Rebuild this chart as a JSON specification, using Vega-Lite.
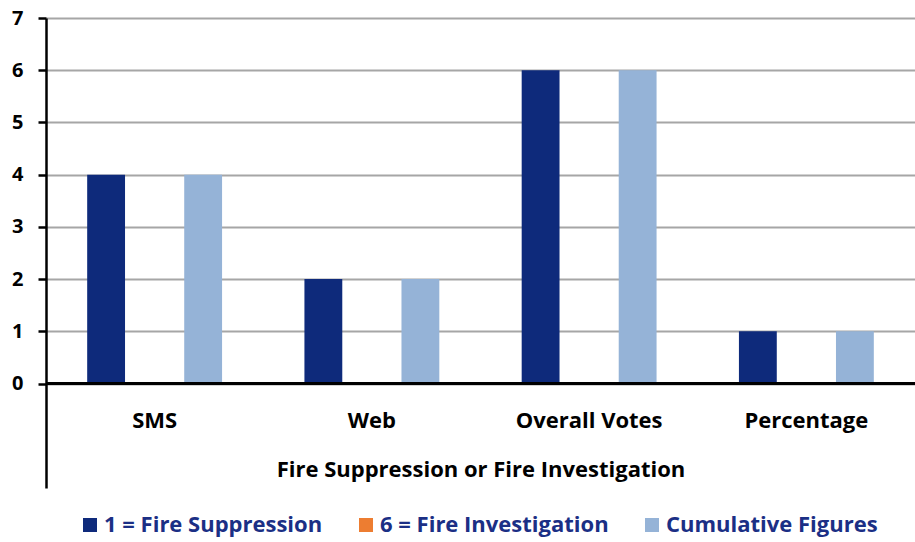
{
  "$schema": "https://vega.github.io/schema/vega-lite/v6.json",
  "autosize": "none",
  "width": 869,
  "height": 470,
  "padding": {"left": 46, "top": 18, "right": 0, "bottom": 54},
  "background": "white",
  "data": {
    "values": [
      {"category": "SMS", "series": "1 = Fire Suppression", "value": 4},
      {"category": "SMS", "series": "6 = Fire Investigation", "value": 0},
      {"category": "SMS", "series": "Cumulative Figures", "value": 4},
      {"category": "Web", "series": "1 = Fire Suppression", "value": 2},
      {"category": "Web", "series": "6 = Fire Investigation", "value": 0},
      {"category": "Web", "series": "Cumulative Figures", "value": 2},
      {"category": "Overall Votes", "series": "1 = Fire Suppression", "value": 6},
      {"category": "Overall Votes", "series": "6 = Fire Investigation", "value": 0},
      {"category": "Overall Votes", "series": "Cumulative Figures", "value": 6},
      {"category": "Percentage", "series": "1 = Fire Suppression", "value": 1},
      {"category": "Percentage", "series": "6 = Fire Investigation", "value": 0},
      {"category": "Percentage", "series": "Cumulative Figures", "value": 1}
    ]
  },
  "layer": [
    {
      "mark": {"type": "bar"},
      "encoding": {
        "x": {
          "field": "category",
          "type": "nominal",
          "sort": ["SMS", "Web", "Overall Votes", "Percentage"],
          "scale": {"paddingInner": 0.33, "paddingOuter": 0.165},
          "axis": {
            "domain": false,
            "ticks": false,
            "grid": false,
            "labelAngle": 0,
            "labelFont": "Open Sans",
            "labelFontWeight": "bold",
            "labelFontSize": 22,
            "labelColor": "black",
            "labelPadding": -78,
            "labelLimit": 400,
            "title": "Fire Suppression or Fire Investigation",
            "titleFont": "Open Sans",
            "titleFontSize": 22,
            "titleFontWeight": "bold",
            "titleColor": "black",
            "titleY": -19,
            "titleBaseline": "middle",
            "titleLimit": 800
          }
        },
        "xOffset": {
          "field": "series",
          "type": "nominal",
          "sort": ["1 = Fire Suppression", "6 = Fire Investigation", "Cumulative Figures"],
          "scale": {"paddingInner": 0.22, "paddingOuter": 0.11}
        },
        "y": {
          "field": "value",
          "type": "quantitative",
          "scale": {"domain": [-2, 7], "nice": false, "zero": false},
          "axis": {
            "values": [0, 1, 2, 3, 4, 5, 6, 7],
            "title": null,
            "grid": true,
            "gridColor": "#A6A6A6",
            "gridWidth": 2,
            "domainColor": "black",
            "domainWidth": 2.5,
            "tickColor": "black",
            "tickWidth": 2.5,
            "tickSize": 8,
            "labelFont": "Open Sans",
            "labelFontWeight": "bold",
            "labelFontSize": 20,
            "labelColor": "black",
            "labelPadding": 15
          }
        },
        "y2": {"datum": 0},
        "color": {
          "field": "series",
          "type": "nominal",
          "sort": ["1 = Fire Suppression", "6 = Fire Investigation", "Cumulative Figures"],
          "scale": {
            "domain": ["1 = Fire Suppression", "6 = Fire Investigation", "Cumulative Figures"],
            "range": ["#0E2A7B", "#ED7D31", "#95B3D7"]
          },
          "legend": {
            "orient": "none",
            "legendX": 33,
            "legendY": 496,
            "direction": "horizontal",
            "title": null,
            "symbolType": "square",
            "symbolSize": 196,
            "symbolStrokeWidth": 0,
            "labelFont": "Open Sans",
            "labelFontWeight": "bold",
            "labelFontSize": 22,
            "labelColor": "#1B2F85",
            "labelOffset": 3,
            "labelLimit": 400,
            "columnPadding": 32
          }
        }
      }
    },
    {
      "mark": {"type": "rule", "color": "black", "strokeWidth": 2},
      "encoding": {"y": {"datum": 0}}
    }
  ],
  "config": {"view": {"stroke": null}}
}
